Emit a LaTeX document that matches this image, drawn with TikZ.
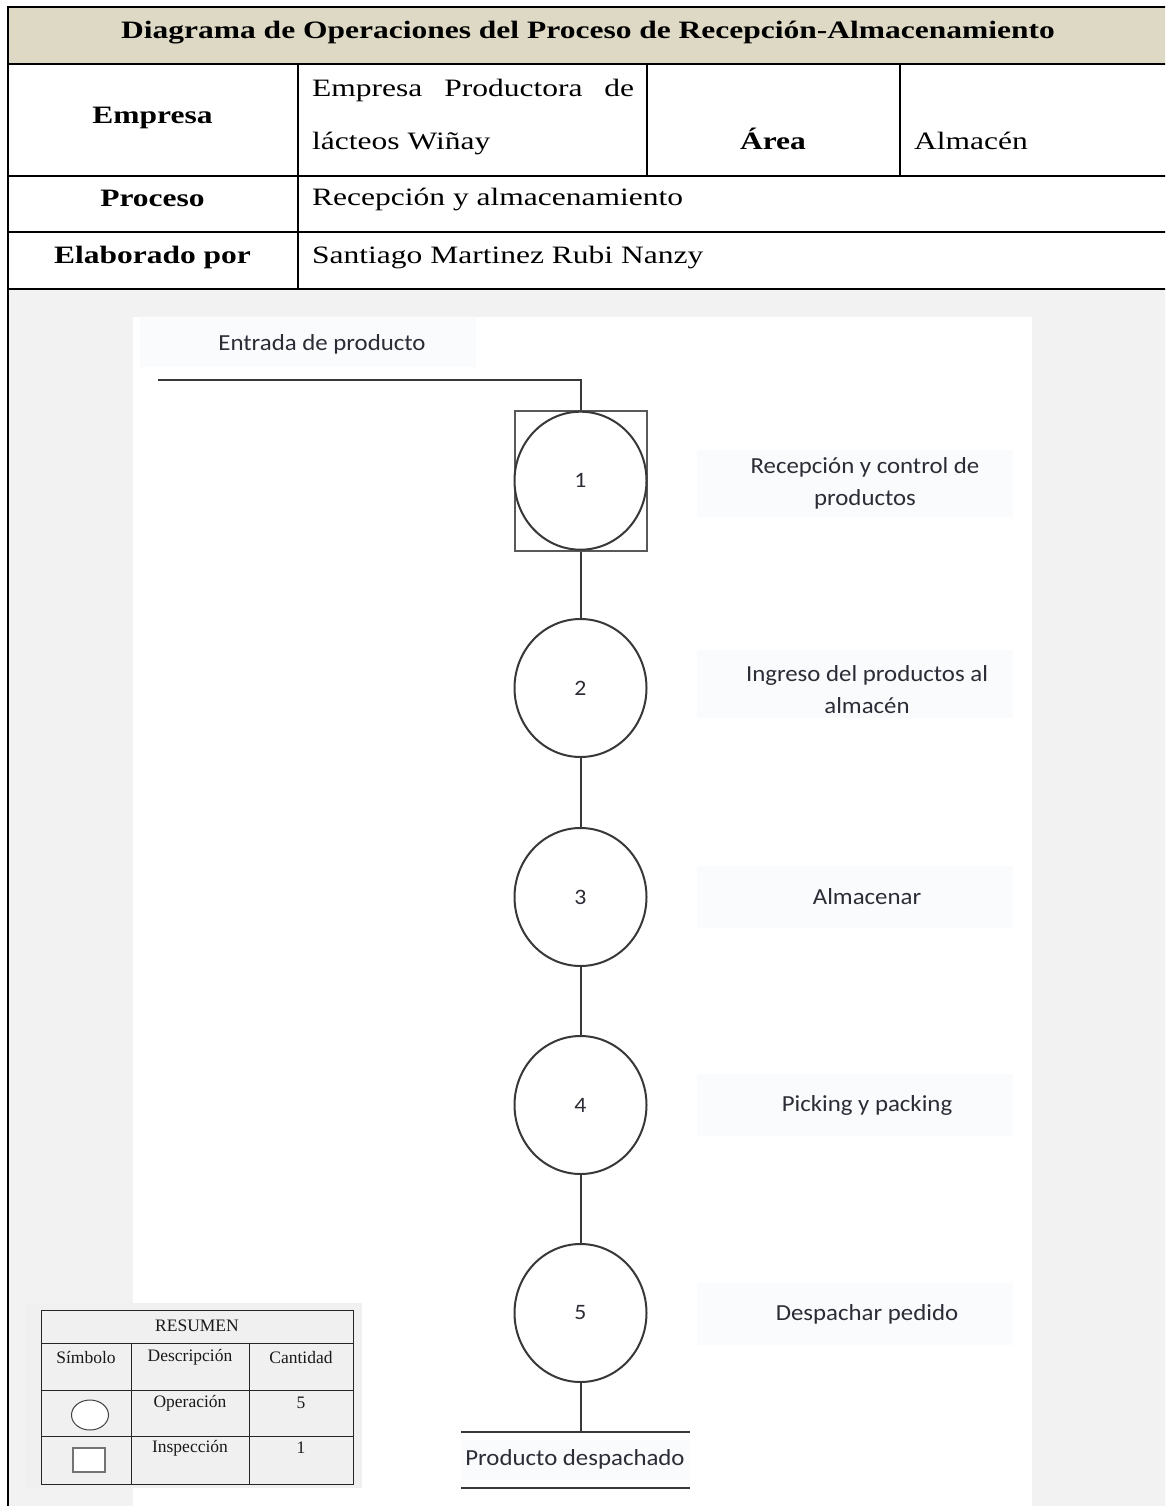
\documentclass[tikz,border=0pt]{standalone}
\usepackage{fontspec}
\setmainfont{Liberation Serif}[FakeStretch=1.26]
\newfontfamily\sumfont{Liberation Serif}
\newfontfamily\flowfont{Carlito}[FakeStretch=1.08]
\usetikzlibrary{shapes.geometric}
\definecolor{headbg}{HTML}{DDD9C4}
\definecolor{bodybg}{HTML}{F2F2F2}
\definecolor{sumbg}{HTML}{F0F0F0}
\definecolor{lblbg}{HTML}{FAFBFD}
\definecolor{flowline}{HTML}{383838}
\definecolor{flowtext}{HTML}{2C2C36}
\begin{document}
\begin{tikzpicture}[x=1pt,y=-1pt,
  tline/.style={line width=2pt, draw=black},
  hdr/.style={anchor=base, font=\fontsize{25}{30}\selectfont\bfseries, inner sep=0},
  txt/.style={anchor=base west, font=\fontsize{25}{30}\selectfont, inner sep=0},
  flowln/.style={line width=2pt, draw=flowline},
  opnode/.style={ellipse, draw=flowline, line width=2pt, fill=white, minimum width=132pt, minimum height=138pt, inner sep=0, font=\flowfont\fontsize{22}{26}\selectfont, text=flowtext},
  insnode/.style={rectangle, draw=black!65, line width=2pt, fill=white, minimum width=132pt, minimum height=140pt, inner sep=0},
  lbl/.style={align=center, font=\flowfont\fontsize{23}{32}\selectfont, text=flowtext, inner sep=0},
  sumln/.style={line width=1pt, draw=black!85},
  sumtxt/.style={font=\sumfont\fontsize{17.5}{20}\selectfont, inner sep=0, text=black!90},
]
\clip (0,0) rectangle (1165,1506);
\fill[white] (0,0) rectangle (1165,1506);
% backgrounds
\fill[headbg] (7.5,7.5) rectangle (1175,64);
\fill[bodybg] (7.5,289) rectangle (1175,1510);
\fill[white] (133,317) rectangle (1032,1510);
% table lines
\draw[tline] (7.5,1510) -- (7.5,7.5) -- (1175,7.5);
\draw[tline] (7.5,64) -- (1175,64);
\draw[tline] (7.5,176) -- (1175,176);
\draw[tline] (7.5,232) -- (1175,232);
\draw[tline] (7.5,289) -- (1175,289);
\draw[tline] (298,64) -- (298,289);
\draw[tline] (647,64) -- (647,176);
\draw[tline] (900,64) -- (900,176);
% table texts
\node[hdr] (title) at (588,38.3) {Diagrama de Operaciones del Proceso de Recepción-Almacenamiento};
\node[hdr] (empL) at (152.5,124) {Empresa};
\node[txt] (emp1) at (312,96.7) {\makebox[322pt][s]{Empresa Productora de}};
\node[txt] (emp2) at (312,150) {lácteos Wiñay};
\node[hdr] (area) at (773,149.3) {Área};
\node[txt] (alm) at (914,149.3) {Almacén};
\node[hdr] (procL) at (152.5,207) {Proceso};
\node[txt] (proc) at (312,205.7) {Recepción y almacenamiento};
\node[hdr] (elabL) at (152.5,263) {Elaborado por};
\node[txt] (elab) at (312,263) {Santiago Martinez Rubi Nanzy};
% label backgrounds
\fill[lblbg] (140,318) rectangle (476,367);
\fill[lblbg] (697,450) rectangle (1013,517);
\fill[lblbg] (697,650) rectangle (1013,718);
\fill[lblbg] (697,866) rectangle (1013,928);
\fill[lblbg] (697,1074) rectangle (1013,1136);
\fill[lblbg] (697,1283) rectangle (1013,1345);
\fill[lblbg] (461,1440) rectangle (690,1480);
% flow
\node[lbl] (entrada) at (322,344) {Entrada de producto};
\coordinate (inL) at (158,380);
\node[insnode] (b1) at (580.5,480.7) {};
\node[opnode] (c1) at (580.5,480.7) {1};
\node[opnode] (c2) at (580.5,688) {2};
\node[opnode] (c3) at (580.5,897) {3};
\node[opnode] (c4) at (580.5,1105) {4};
\node[opnode] (c5) at (580.5,1313) {5};
\draw[flowln] (inL) -| (b1.north);
\draw[flowln] (b1.south) -- (c2.north);
\draw[flowln] (c2.south) -- (c3.north);
\draw[flowln] (c3.south) -- (c4.north);
\draw[flowln] (c4.south) -- (c5.north);
\coordinate (outJ) at (580.5,1432);
\draw[flowln] (c5.south) -- (outJ);
\coordinate (o1l) at (461,1432);
\coordinate (o1r) at (690,1432);
\coordinate (o2l) at (461,1488);
\coordinate (o2r) at (690,1488);
\draw[flowln] (o1l) -- (o1r);
\draw[flowln] (o2l) -- (o2r);
\node[lbl] (prodd) at (575,1459) {Producto despachado};
\node[lbl] (l1) at (865,483) {Recepción y control de\\productos};
\node[lbl] (l2) at (867,690) {Ingreso del productos al\\almacén};
\node[lbl] (l3) at (867,897) {Almacenar};
\node[lbl] (l4) at (867,1105) {Picking y packing};
\node[lbl] (l5) at (867,1314) {Despachar pedido};
% summary table
\fill[sumbg] (25,1303) rectangle (362,1488);
\draw[sumln] (41.7,1310) rectangle (353,1484);
\draw[sumln] (41.7,1343) -- (353,1343);
\draw[sumln] (41.7,1390) -- (353,1390);
\draw[sumln] (41.7,1436) -- (353,1436);
\draw[sumln] (131,1343) -- (131,1484);
\draw[sumln] (249,1343) -- (249,1484);
\node[sumtxt] (resumen) at (197,1326) {RESUMEN};
\node[sumtxt] (simb) at (86,1357) {Símbolo};
\node[sumtxt] (desc) at (190,1357) {Descripción};
\node[sumtxt] (cant) at (301,1357) {Cantidad};
\node[sumtxt] (oper) at (190,1403) {Operación};
\node[sumtxt] (n5) at (301,1403) {5};
\node[sumtxt] (insp) at (190,1448) {Inspección};
\node[sumtxt] (n1) at (301,1448) {1};
\node[ellipse, draw=black!75, line width=1pt, fill=white, minimum width=37pt, minimum height=30pt, inner sep=0] (symop) at (90,1415) {};
\node[rectangle, draw=black!55, line width=1.5pt, fill=white, minimum width=32pt, minimum height=24pt, inner sep=0] (symins) at (89,1460) {};
\end{tikzpicture}
\end{document}
